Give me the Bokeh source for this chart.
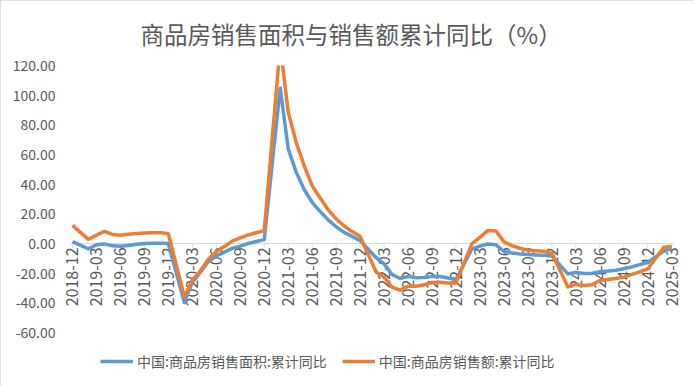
import math
from bokeh.plotting import figure
from bokeh.models import (Range1d, FixedTicker, NumeralTickFormatter, Legend, LegendItem)
from bokeh.core.properties import value
from bokeh.embed import file_html
from bokeh.resources import INLINE

# ---- data ----
months = [
    "2018-12",
    "2019-02", "2019-03", "2019-04", "2019-05", "2019-06", "2019-07", "2019-08", "2019-09", "2019-10", "2019-11", "2019-12",
    "2020-02", "2020-03", "2020-04", "2020-05", "2020-06", "2020-07", "2020-08", "2020-09", "2020-10", "2020-11", "2020-12",
    "2021-02", "2021-03", "2021-04", "2021-05", "2021-06", "2021-07", "2021-08", "2021-09", "2021-10", "2021-11", "2021-12",
    "2022-02", "2022-03", "2022-04", "2022-05", "2022-06", "2022-07", "2022-08", "2022-09", "2022-10", "2022-11", "2022-12",
    "2023-02", "2023-03", "2023-04", "2023-05", "2023-06", "2023-07", "2023-08", "2023-09", "2023-10", "2023-11", "2023-12",
    "2024-02", "2024-03", "2024-04", "2024-05", "2024-06", "2024-07", "2024-08", "2024-09", "2024-10", "2024-11", "2024-12",
    "2025-02", "2025-03",
]
area_yoy = [
    1.3,
    -3.6, -0.9, -0.3, -1.6, -1.8, -1.3, -0.6, -0.1, 0.1, 0.2, -0.1,
    -39.9, -26.3, -19.3, -12.3, -8.4, -5.8, -3.3, -1.8, 0.0, 1.3, 2.6,
    104.9, 63.8, 48.1, 36.4, 27.7, 21.5, 15.9, 11.3, 7.5, 4.8, 1.9,
    -9.6, -13.8, -20.9, -23.6, -22.2, -23.1, -23.0, -22.2, -22.3, -23.3, -24.3,
    -3.6, -1.8, -0.4, -0.9, -5.3, -6.5, -7.1, -7.5, -7.8, -8.0, -8.5,
    -20.5, -19.4, -20.2, -20.3, -19.0, -18.6, -18.0, -17.1, -15.8, -14.3, -12.9,
    -5.1, -3.0,
]
amount_yoy = [
    12.2,
    2.8, 5.6, 8.1, 6.1, 5.6, 6.2, 6.7, 7.1, 7.3, 7.3, 6.5,
    -35.9, -24.7, -18.6, -10.6, -5.4, -2.1, 1.6, 3.7, 5.8, 7.2, 8.7,
    133.4, 88.5, 68.2, 52.4, 38.9, 30.7, 22.7, 16.6, 11.8, 8.0, 4.8,
    -19.3, -22.7, -29.5, -31.5, -28.9, -28.8, -27.9, -26.3, -26.1, -26.6, -26.7,
    -0.1, 4.1, 8.8, 8.4, 1.1, -1.5, -3.2, -4.6, -4.9, -5.2, -6.5,
    -29.3, -27.6, -28.3, -27.9, -25.0, -24.3, -23.6, -22.7, -20.9, -19.2, -17.1,
    -2.6, -2.1,
]
tick_labels = [
    "2018-12", "2019-03", "2019-06", "2019-09", "2019-12", "2020-03", "2020-06", "2020-09",
    "2020-12", "2021-03", "2021-06", "2021-09", "2021-12", "2022-03", "2022-06", "2022-09",
    "2022-12", "2023-03", "2023-06", "2023-09", "2023-12", "2024-03", "2024-06", "2024-09",
    "2024-12", "2025-03",
]
y_ticks = [-60, -40, -20, 0, 20, 40, 60, 80, 100, 120]
series_names = ["中国:商品房销售面积:累计同比", "中国:商品房销售额:累计同比"]
title_text = "商品房销售面积与销售额累计同比（%）"


def month_index(s):
    y, m = s.split("-")
    return (int(y) - 2018) * 12 + int(m) - 12


x = [month_index(m) for m in months]
tick_x = [month_index(t) for t in tick_labels]

FONT = "Noto Sans CJK SC"
GRAY = "#595959"
AXIS = "#d9d9d9"
BLUE = "#5B9BD5"
ORANGE = "#ED7D31"

# frame reaches below the -60 tick so the legend can sit inside it
p = figure(frame_width=620, frame_height=315, output_backend="svg", toolbar_location=None,
           x_range=Range1d(-1.25, 76.35), y_range=Range1d(-92.4, 120),
           x_axis_location=None,
           min_border_left=62, min_border_right=12, min_border_top=65, min_border_bottom=6)
p.outline_line_color = None
p.xgrid.visible = False
p.ygrid.visible = False
p.styles = {"outline": "2px solid #d9d9d9", "outline-offset": "-2px"}

# title
p.title.text = title_text
p.title.align = "left"
p.title.offset = 78
p.title.vertical_align = "middle"
p.title.standoff = 28
p.title.text_font = FONT
p.title.text_font_size = "23.5px"
p.title.text_font_style = "normal"
p.title.text_color = GRAY

# y axis
ya = p.yaxis[0]
ya.ticker = FixedTicker(ticks=y_ticks)
ya.formatter = NumeralTickFormatter(format="0.00")
ya.axis_line_color = None
ya.major_tick_line_color = None
ya.minor_tick_line_color = None
ya.major_tick_in = 0
ya.major_tick_out = 0
ya.major_label_standoff = 7
ya.major_label_text_font = FONT
ya.major_label_text_font_size = "14px"
ya.major_label_text_color = GRAY

# horizontal category axis drawn at y = 0
x_lo = min(x) - 0.25
x_hi = max(x) + 0.25
p.segment(x0=[x_lo], y0=[0], x1=[x_hi], y1=[0], line_color=AXIS, line_width=1)
p.ray(x=tick_x, y=[0] * len(tick_x), length=4, length_units="screen", angle=-math.pi / 2,
      line_color=AXIS, line_width=1)
p.text(x=tick_x, y=[0] * len(tick_x), text=tick_labels, angle=math.pi / 2,
       text_align="right", text_baseline="middle", y_offset=4,
       text_font=value(FONT), text_font_size="16px", text_color=GRAY)

r1 = p.line(x, area_yoy, line_color=BLUE, line_width=3.5, line_join="round")
r2 = p.line(x, amount_yoy, line_color=ORANGE, line_width=3.5, line_join="round")

legend = Legend(items=[LegendItem(label=series_names[0], renderers=[r1]),
                       LegendItem(label=series_names[1], renderers=[r2])],
                orientation="horizontal", location=(38, 9),
                label_text_font=FONT, label_text_font_size="14px", label_text_color=GRAY,
                glyph_width=33, glyph_height=20, label_height=20, label_standoff=4, spacing=15,
                border_line_color=None, background_fill_alpha=0, padding=0, margin=0)
p.add_layout(legend, "center")

open("out.html", "w").write(file_html(p, INLINE))
